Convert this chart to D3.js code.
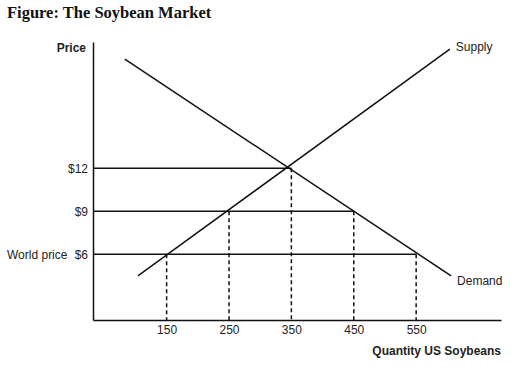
<!DOCTYPE html>
<html>
<head>
<meta charset="utf-8">
<script src="https://cdn.jsdelivr.net/npm/d3@7"></script>
<style>
  body { margin: 0; background: #fff; }
  svg { display: block; }
</style>
</head>
<body>
<div id="chart"></div>
<script>
// values
const quantityTicks = [150, 250, 350, 450, 550];
const priceTicks = [6, 9, 12];

// supply / demand curve end points (quantity, price)
const supplyQuantities = [104, 604];
const supplyPrices = [4.5, 20.3];
const demandQuantities = [83, 606];
const demandPrices = [19.6, 4.5];

// price lines: price level and where the line stops on the quantity axis
const priceLevels = [12, 9, 6];
const priceLineEnds = [350, 450, 550];

// dashed drop lines: quantity and the price they start from
const dropQuantities = [150, 250, 350, 450, 550];
const dropPrices = [6, 9, 12, 9, 6];

const chart = {
  width: 522,
  height: 372,
  margin: { top: 42, right: 21, bottom: 52, left: 93 },
};

const textColor = "#222";
const sans = "'Liberation Sans', Arial, sans-serif";
const fontSize = 12;

const x = d3.scaleLinear()
  .domain([32, 686])
  .range([chart.margin.left, chart.width - chart.margin.right]);

const y = d3.scaleLinear()
  .domain([1.42, 20.8])
  .range([chart.height - chart.margin.bottom, chart.margin.top]);

const svg = d3.select("#chart")
  .append("svg")
  .attr("width", chart.width)
  .attr("height", chart.height);

// title
svg.append("text")
  .attr("x", 7)
  .attr("y", 18)
  .attr("font-family", "'Liberation Serif', 'Times New Roman', serif")
  .attr("font-weight", "bold")
  .attr("font-size", 16.5)
  .attr("fill", "#111")
  .text("Figure: The Soybean Market");

// horizontal price lines
svg.append("g")
  .selectAll("line")
  .data(priceLevels)
  .join("line")
  .attr("x1", x.range()[0])
  .attr("x2", (d, i) => x(priceLineEnds[i]))
  .attr("y1", d => y(d))
  .attr("y2", d => y(d))
  .attr("stroke", "#111")
  .attr("stroke-width", 1.5);

// dashed drop lines
svg.append("g")
  .selectAll("line")
  .data(dropQuantities)
  .join("line")
  .attr("x1", d => x(d))
  .attr("x2", d => x(d))
  .attr("y1", (d, i) => y(dropPrices[i]))
  .attr("y2", y.range()[0])
  .attr("stroke", "#111")
  .attr("stroke-width", 1.5)
  .attr("stroke-dasharray", "4,3");

// supply and demand curves
let line = d3.line()
  .x(d => x(d[0]))
  .y(d => y(d[1]));

let supply = d3.zip(supplyQuantities, supplyPrices);
let demand = d3.zip(demandQuantities, demandPrices);

svg.append("path")
  .datum(supply)
  .attr("d", line)
  .attr("fill", "none")
  .attr("stroke", "#111")
  .attr("stroke-width", 1.5);

svg.append("path")
  .datum(demand)
  .attr("d", line)
  .attr("fill", "none")
  .attr("stroke", "#111")
  .attr("stroke-width", 1.5);

// axes
let xAxis = g => g
  .attr("transform", `translate(0,${y.range()[0]})`)
  .call(d3.axisBottom(x)
    .tickValues(quantityTicks)
    .tickSize(0)
    .tickPadding(5))
  .call(g => g.select(".domain").attr("stroke", "#111").attr("stroke-width", 1.5));

let yAxis = g => g
  .attr("transform", `translate(${x.range()[0]},0)`)
  .call(d3.axisLeft(y)
    .tickValues(priceTicks)
    .tickFormat(d => "$" + d)
    .tickSize(0)
    .tickPadding(5))
  .call(g => g.select(".domain").attr("stroke", "#111").attr("stroke-width", 1.5));

svg.append("g").call(xAxis);
svg.append("g").call(yAxis);

svg.selectAll(".tick text")
  .attr("font-family", sans)
  .attr("font-size", fontSize)
  .attr("fill", textColor);

// labels
let label = (text, lx, ly, anchor, bold) => svg.append("text")
  .attr("x", lx)
  .attr("y", ly)
  .attr("dy", "0.35em")
  .attr("text-anchor", anchor)
  .attr("font-family", sans)
  .attr("font-size", fontSize)
  .attr("font-weight", bold ? "bold" : "normal")
  .attr("fill", textColor)
  .text(text);

label("Price", x.range()[0] - 7, 48, "end", true);
label("World price", 7, y(6), "start", false);
label("Supply", x(supplyQuantities[1]) + 6, y(supplyPrices[1]) - 2, "start", false);
label("Demand", x(demandQuantities[1]) + 6, y(demandPrices[1]) + 5, "start", false);
label("Quantity US Soybeans", x.range()[1], 351, "end", true);
</script>
</body>
</html>
